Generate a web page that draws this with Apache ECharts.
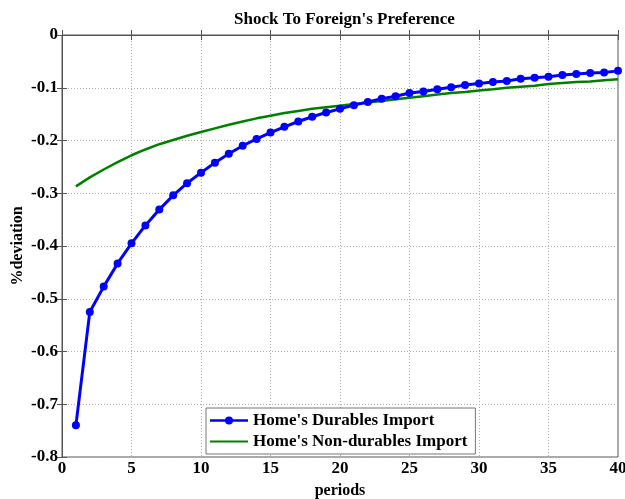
<!DOCTYPE html>
<html>
<head>
<meta charset="utf-8">
<script src="https://cdn.jsdelivr.net/npm/echarts@6/dist/echarts.min.js"></script>
<style>
  html, body { margin: 0; padding: 0; background: #fff; overflow: hidden; }
  #chart { width: 100vw; height: 100vh; }
</style>
</head>
<body>
<div id="chart"></div>
<script>
// Impulse responses over 40 periods
var periods = [];
for (var p = 1; p <= 40; p++) periods.push(p);

var durablesImport = [
  -0.740, -0.525, -0.477, -0.433, -0.395, -0.361, -0.331, -0.304, -0.281, -0.261,
  -0.242, -0.225, -0.210, -0.197, -0.185, -0.174, -0.164, -0.155, -0.147, -0.140,
  -0.133, -0.127, -0.121, -0.116, -0.110, -0.107, -0.103, -0.099, -0.095, -0.092,
  -0.089, -0.087, -0.083, -0.081, -0.079, -0.076, -0.074, -0.072, -0.071, -0.068
];

var nonDurablesImport = [
  -0.287, -0.270, -0.255, -0.241, -0.228, -0.217, -0.207, -0.199, -0.191, -0.184,
  -0.177, -0.170, -0.164, -0.158, -0.153, -0.148, -0.144, -0.140, -0.137, -0.134,
  -0.131, -0.128, -0.125, -0.122, -0.119, -0.116, -0.113, -0.110, -0.108, -0.105,
  -0.103, -0.100, -0.098, -0.096, -0.093, -0.091, -0.089, -0.088, -0.086, -0.084
];

var seriesNames = ["Home's Durables Import", "Home's Non-durables Import"];

function pairs(xs, ys) {
  return xs.map(function (x, i) { return [x, ys[i]]; });
}

// Legend glyphs: a 38x8 box; line through the middle, with a dot for the marked series
var iconLineDot = 'path://M0,2.75 L38,2.75 L38,5.25 L0,5.25 Z M23,4 A4,4 0 1 1 15,4 A4,4 0 1 1 23,4 Z';
var iconLine = 'path://M0,0 L0.01,0 L0,0.01 Z M0,8 L0.01,8 L0,7.99 Z M0,2.9 L38,2.9 L38,5.1 L0,5.1 Z';

var font = 'Liberation Serif';
var gridLine = { show: true, lineStyle: { color: '#b0b0b0', type: [1, 2], width: 1 } };
var tick = { show: true, inside: true, length: 5, lineStyle: { color: '#555' } };

var chart = echarts.init(document.getElementById('chart'));
chart.setOption({
  animation: false,
  backgroundColor: '#fff',
  title: {
    text: 'Shock To Foreign\'s Preference',
    left: 229,
    top: 6,
    textStyle: { fontFamily: font, fontWeight: 'bold', fontSize: 17, color: '#000' }
  },
  grid: {
    left: 62, right: 7, top: 35, bottom: 42,
    outerBoundsMode: 'none',
    containLabel: false,
    show: true, borderColor: '#555', borderWidth: 1, backgroundColor: '#fff'
  },
  legend: {
    orient: 'vertical',
    left: 206, top: 408,
    padding: [3, 8, 3, 4],
    itemGap: 2,
    itemWidth: 38,
    itemHeight: 8,
    backgroundColor: '#fff',
    borderColor: '#777',
    borderWidth: 1,
    textStyle: { fontFamily: font, fontWeight: 'bold', fontSize: 17, color: '#000', lineHeight: 19 },
    data: [
      { name: seriesNames[0], icon: iconLineDot },
      { name: seriesNames[1], icon: iconLine }
    ]
  },
  xAxis: [{
    type: 'value', min: 0, max: 40, interval: 5,
    name: 'periods', nameLocation: 'middle', nameGap: 26,
    nameMoveOverlap: false,
    nameTextStyle: { fontFamily: font, fontWeight: 'bold', fontSize: 16, color: '#000' },
    axisLine: { show: true, lineStyle: { color: '#555' } },
    axisTick: tick,
    axisLabel: { fontFamily: font, fontWeight: 'bold', fontSize: 17, color: '#000', margin: 3 },
    splitLine: gridLine
  }, {
    type: 'value', min: 0, max: 40, interval: 5, position: 'top',
    axisLine: { show: true, lineStyle: { color: '#555' } },
    axisTick: tick, axisLabel: { show: false }, splitLine: { show: false }
  }],
  yAxis: [{
    type: 'value', min: -0.8, max: 0, interval: 0.1,
    name: '%deviation', nameLocation: 'middle', nameGap: 36,
    nameMoveOverlap: false,
    nameTextStyle: { fontFamily: font, fontWeight: 'bold', fontSize: 16, color: '#000' },
    axisLine: { show: true, lineStyle: { color: '#555' } },
    axisTick: tick,
    axisLabel: {
      fontFamily: font, fontWeight: 'bold', fontSize: 17, color: '#000', margin: 4,
      formatter: function (v) { return v === 0 ? '0' : (+v.toFixed(1)).toString(); }
    },
    splitLine: gridLine
  }, {
    type: 'value', min: -0.8, max: 0, interval: 0.1, position: 'right',
    axisLine: { show: true, lineStyle: { color: '#555' } },
    axisTick: tick, axisLabel: { show: false }, splitLine: { show: false }
  }],
  series: [{
    name: seriesNames[0],
    type: 'line',
    data: pairs(periods, durablesImport),
    symbol: 'circle',
    symbolSize: 8,
    showSymbol: true,
    color: '#0000ff',
    lineStyle: { color: '#0000ff', width: 3 },
    itemStyle: { color: '#0000ff' },
    z: 3
  }, {
    name: seriesNames[1],
    type: 'line',
    data: pairs(periods, nonDurablesImport),
    symbol: 'none',
    color: '#008000',
    lineStyle: { color: '#008000', width: 2.5 },
    z: 2
  }]
});
</script>
</body>
</html>
